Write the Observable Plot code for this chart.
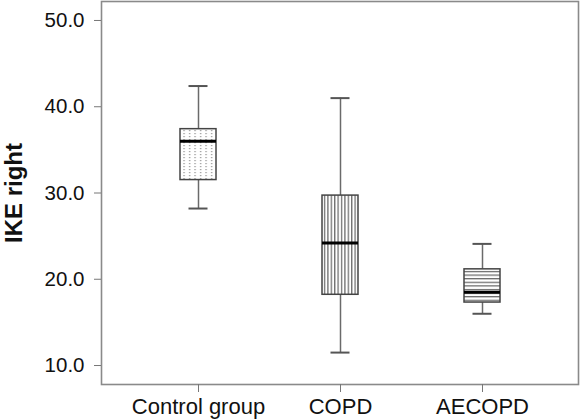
<!DOCTYPE html>
<html>
<head>
<meta charset="utf-8">
<script src="https://cdn.jsdelivr.net/npm/d3@7"></script>
<script src="https://cdn.jsdelivr.net/npm/@observablehq/plot@0.6"></script>
<style>
  html, body { margin: 0; padding: 0; background: #fff; }
  svg { display: block; }
</style>
</head>
<body>
<div id="chart"></div>
<script>
const groups = ["Control group", "COPD", "AECOPD"];
const whiskerLow = [28.2, 11.5, 16.0];
const q1 = [31.5, 18.2, 17.3];
const median = [36.0, 24.2, 18.5];
const q3 = [37.4, 29.7, 21.15];
const whiskerHigh = [42.4, 41.0, 24.1];
const yTicks = [10, 20, 30, 40, 50];

const data = groups.map((g, i) => ({
  group: g, lo: whiskerLow[i], q1: q1[i], med: median[i], q3: q3[i], hi: whiskerHigh[i]
}));

const patternIds = ["pat-dots", "pat-vlines", "pat-hlines"];
const fillFor = d => `url(#${patternIds[groups.indexOf(d.group)]})`;

const font = "'Liberation Sans', Arial, Helvetica, sans-serif";

const plot = Plot.plot({
  width: 580,
  height: 419,
  marginLeft: 101,
  marginRight: 2,
  marginTop: 1,
  marginBottom: 35,
  style: { fontFamily: font, background: "#fff", color: "#000", overflow: "visible" },
  x: { domain: groups, paddingInner: 0.747, paddingOuter: 0.547, label: null },
  y: { domain: [7.8, 52.2], label: null },
  marks: [
    Plot.ruleX(data, { x: "group", y1: "q3", y2: "hi", stroke: "#6a6a6a", strokeWidth: 1.5 }),
    Plot.ruleX(data, { x: "group", y1: "lo", y2: "q1", stroke: "#6a6a6a", strokeWidth: 1.5 }),
    Plot.tickY(data, { x: "group", y: "hi", stroke: "#555", strokeWidth: 2, insetLeft: 8.5, insetRight: 8.5 }),
    Plot.tickY(data, { x: "group", y: "lo", stroke: "#555", strokeWidth: 2, insetLeft: 8.5, insetRight: 8.5 }),
    Plot.barY(data, { x: "group", y1: "q1", y2: "q3", fill: "#fff" }),
    Plot.barY(data, { x: "group", y1: "q1", y2: "q3", fill: fillFor, stroke: "#444", strokeWidth: 1.5 }),
    Plot.tickY(data, { x: "group", y: "med", stroke: "#000", strokeWidth: 3 }),
    Plot.frame({ stroke: "#8a8a8a", strokeWidth: 1.6 }),
    Plot.axisY(yTicks, {
      tickFormat: d3.format(".1f"), tickSize: 7, tickPadding: 10,
      stroke: "#777", fill: "#111", fontSize: 20.5, label: null
    }),
    Plot.axisX(groups, {
      tickSize: 8, tickPadding: 6, stroke: "#777", fill: "#111", fontSize: 22, label: null
    }),
    Plot.text(["IKE right"], {
      frameAnchor: "left", dx: -86.7, rotate: -90, text: d => d,
      fontSize: 24, fontWeight: "bold", fill: "#111", textAnchor: "middle",
      style: "letter-spacing:1.5px"
    })
  ]
});

const svg = d3.select(plot);
const defs = svg.insert("defs", ":first-child");
const dots = defs.append("pattern").attr("id", "pat-dots")
  .attr("patternUnits", "userSpaceOnUse").attr("width", 5.5).attr("height", 3);
dots.append("rect").attr("x", 2).attr("y", 1).attr("width", 1.2).attr("height", 1.2).attr("fill", "#8a8a8a");
const vl = defs.append("pattern").attr("id", "pat-vlines")
  .attr("patternUnits", "userSpaceOnUse").attr("width", 3.4).attr("height", 10);
vl.append("rect").attr("width", 3.4).attr("height", 10).attr("fill", "#fff");
vl.append("rect").attr("x", 1).attr("y", 0).attr("width", 1.1).attr("height", 10).attr("fill", "#555");
const hl = defs.append("pattern").attr("id", "pat-hlines")
  .attr("patternUnits", "userSpaceOnUse").attr("width", 10).attr("height", 3.6);
hl.append("rect").attr("width", 10).attr("height", 3.6).attr("fill", "#fff");
hl.append("rect").attr("x", 0).attr("y", 1).attr("width", 10).attr("height", 1.1).attr("fill", "#555");

document.getElementById("chart").appendChild(plot);
</script>
</body>
</html>
